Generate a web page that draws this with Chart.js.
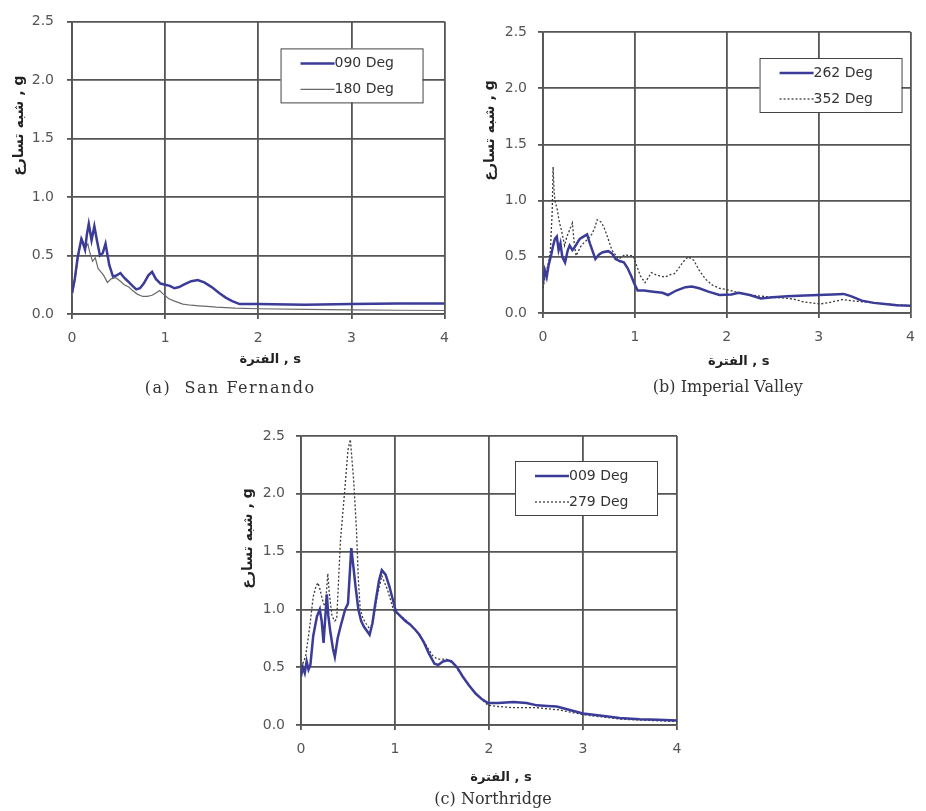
<!DOCTYPE html>
<html>
<head>
<meta charset="utf-8">
<script src="https://cdn.jsdelivr.net/npm/chart.js@4.4.0/dist/chart.umd.min.js"></script>
<style>
  body { margin: 0; background: #fff; width: 926px; height: 811px; position: relative; overflow: hidden; }
  canvas { position: absolute; }
</style>
</head>
<body>
<canvas id="chartA" width="460" height="400" style="left:0;top:0"></canvas>
<canvas id="chartB" width="466" height="400" style="left:460px;top:0"></canvas>
<canvas id="chartC" width="480" height="411" style="left:220px;top:400px"></canvas>
<script>
// axis texts
const xTitle = 'الفترة , s';
const yTitle = 'شبه تسارع , g';
const xTicks = [0, 1, 2, 3, 4];
const yTicks = [0, 0.5, 1, 1.5, 2, 2.5];

// (a) San Fernando
const periodA090 = [0, 0.03, 0.06, 0.1, 0.12, 0.14, 0.16, 0.18, 0.21, 0.24, 0.27, 0.3, 0.33, 0.36, 0.4, 0.44, 0.48, 0.52, 0.56, 0.6, 0.65, 0.69, 0.73, 0.77, 0.82, 0.86, 0.9, 0.95, 1.0, 1.05, 1.1, 1.15, 1.2, 1.28, 1.35, 1.42, 1.5, 1.58, 1.65, 1.72, 1.8, 2.0, 2.5, 3.0, 3.5, 4.0];
const accelA090 = [0.18, 0.3, 0.48, 0.64, 0.6, 0.55, 0.68, 0.77, 0.63, 0.75, 0.62, 0.5, 0.52, 0.6, 0.42, 0.32, 0.33, 0.35, 0.31, 0.28, 0.24, 0.21, 0.22, 0.26, 0.33, 0.36, 0.3, 0.26, 0.25, 0.24, 0.22, 0.23, 0.25, 0.28, 0.29, 0.27, 0.23, 0.18, 0.14, 0.11, 0.085, 0.085, 0.08, 0.085, 0.09, 0.09];
const periodA180 = [0, 0.03, 0.06, 0.09, 0.11, 0.14, 0.17, 0.19, 0.22, 0.25, 0.28, 0.31, 0.34, 0.38, 0.42, 0.47, 0.52, 0.56, 0.61, 0.65, 0.7, 0.76, 0.81, 0.86, 0.9, 0.94, 0.98, 1.04, 1.1, 1.19, 1.28, 1.36, 1.45, 1.55, 1.65, 1.75, 2.0, 2.5, 3.0, 3.5, 4.0];
const accelA180 = [0.15, 0.28, 0.45, 0.6, 0.64, 0.56, 0.6, 0.53, 0.45, 0.48, 0.39, 0.36, 0.33, 0.27, 0.3, 0.31, 0.28, 0.25, 0.23, 0.2, 0.17, 0.15, 0.15, 0.16, 0.18, 0.2, 0.17, 0.13, 0.11, 0.085, 0.075, 0.07, 0.065, 0.058, 0.055, 0.05, 0.045, 0.04, 0.035, 0.032, 0.03];

// (b) Imperial Valley
const periodB262 = [0, 0.02, 0.04, 0.06, 0.09, 0.11, 0.13, 0.15, 0.17, 0.19, 0.21, 0.24, 0.27, 0.29, 0.32, 0.34, 0.37, 0.4, 0.44, 0.48, 0.51, 0.54, 0.57, 0.61, 0.65, 0.71, 0.75, 0.79, 0.84, 0.88, 0.92, 0.96, 1.0, 1.03, 1.1, 1.2, 1.3, 1.36, 1.45, 1.55, 1.62, 1.7, 1.8, 1.92, 2.05, 2.13, 2.25, 2.37, 2.5, 2.66, 2.85, 3.0, 3.15, 3.27, 3.35, 3.47, 3.6, 3.72, 3.85, 4.0];
const accelB262 = [0.27, 0.38, 0.32, 0.42, 0.52, 0.6, 0.66, 0.68, 0.56, 0.62, 0.5, 0.45, 0.56, 0.6, 0.56, 0.58, 0.62, 0.66, 0.68, 0.7, 0.62, 0.55, 0.48, 0.52, 0.54, 0.55, 0.53, 0.48, 0.46, 0.45, 0.4, 0.33, 0.25, 0.2, 0.2, 0.19, 0.18, 0.16, 0.2, 0.23, 0.235, 0.22, 0.19, 0.16, 0.165, 0.18, 0.16, 0.13, 0.14, 0.15, 0.155, 0.16, 0.165, 0.17, 0.15, 0.11, 0.09, 0.08, 0.07, 0.065];
const periodB352 = [0, 0.03, 0.06, 0.08, 0.1, 0.11, 0.12, 0.13, 0.155, 0.18, 0.2, 0.22, 0.235, 0.26, 0.29, 0.32, 0.34, 0.36, 0.41, 0.45, 0.48, 0.53, 0.56, 0.59, 0.63, 0.66, 0.7, 0.75, 0.82, 0.86, 0.89, 0.93, 0.98, 1.02, 1.06, 1.11, 1.15, 1.18, 1.23, 1.27, 1.33, 1.38, 1.43, 1.47, 1.52, 1.58, 1.64, 1.7, 1.77, 1.84, 1.92, 1.99, 2.13, 2.25, 2.37, 2.5, 2.66, 2.75, 2.83, 2.92, 3.01, 3.1, 3.26, 3.35, 3.47, 3.6, 3.75, 3.9, 4.0];
const accelB352 = [0.22, 0.35, 0.45, 0.55, 0.9, 1.3, 1.1, 1.0, 0.92, 0.8, 0.74, 0.66, 0.6, 0.68, 0.74, 0.8, 0.62, 0.51, 0.59, 0.63, 0.65, 0.7, 0.75, 0.83, 0.81, 0.77, 0.68, 0.56, 0.48, 0.5, 0.52, 0.51, 0.51, 0.42, 0.33, 0.27, 0.32, 0.36, 0.34, 0.33, 0.32, 0.34, 0.35, 0.39, 0.45, 0.5, 0.47, 0.38, 0.3, 0.25, 0.22, 0.21, 0.18, 0.16, 0.15, 0.14, 0.13, 0.12, 0.1, 0.09, 0.08, 0.09, 0.12, 0.11, 0.1, 0.09, 0.08, 0.07, 0.065];

// (c) Northridge
const periodC009 = [0, 0.02, 0.04, 0.06, 0.08, 0.1, 0.13, 0.17, 0.2, 0.22, 0.24, 0.26, 0.275, 0.29, 0.31, 0.34, 0.36, 0.39, 0.42, 0.47, 0.5, 0.535, 0.56, 0.58, 0.61, 0.64, 0.67, 0.73, 0.76, 0.79, 0.83, 0.86, 0.9, 0.94, 1.01, 1.06, 1.11, 1.16, 1.22, 1.26, 1.31, 1.36, 1.42, 1.46, 1.51, 1.56, 1.6, 1.66, 1.72, 1.79, 1.86, 1.93, 1.99, 2.1, 2.26, 2.4, 2.51, 2.62, 2.72, 2.86, 3.0, 3.2, 3.39, 3.6, 3.8, 4.0];
const accelC009 = [0.42, 0.5, 0.45, 0.55, 0.48, 0.52, 0.77, 0.94, 1.0, 0.9, 0.71, 0.95, 1.13, 0.95, 0.82, 0.66, 0.59, 0.75, 0.85, 1.0, 1.05, 1.53, 1.35, 1.2, 1.0, 0.9, 0.85, 0.78, 0.88, 1.05, 1.25, 1.34, 1.3, 1.2, 0.98, 0.94, 0.9, 0.87, 0.82, 0.78, 0.71, 0.62, 0.53, 0.52, 0.55, 0.56, 0.55, 0.5, 0.42, 0.34, 0.27, 0.22, 0.19, 0.19, 0.2, 0.19, 0.17, 0.165, 0.16, 0.13, 0.1, 0.08, 0.06, 0.05, 0.045, 0.04];
const periodC279 = [0, 0.03, 0.05, 0.08, 0.1, 0.13, 0.16, 0.18, 0.2, 0.22, 0.24, 0.26, 0.285, 0.3, 0.33, 0.36, 0.38, 0.42, 0.46, 0.5, 0.525, 0.56, 0.59, 0.61, 0.63, 0.66, 0.69, 0.74, 0.78, 0.81, 0.86, 0.92, 0.99, 1.05, 1.1, 1.2, 1.3, 1.4, 1.45, 1.5, 1.55, 1.62, 1.72, 1.86, 1.99, 2.1, 2.25, 2.5, 2.75, 3.0, 3.2, 3.4, 3.7, 4.0];
const accelC279 = [0.5, 0.55, 0.6, 0.77, 0.9, 1.11, 1.2, 1.23, 1.18, 1.11, 1.05, 1.03, 1.31, 1.15, 0.94, 0.9, 0.92, 1.6, 1.98, 2.38, 2.47, 2.12, 1.69, 1.26, 1.0, 0.92, 0.88, 0.82, 0.95, 1.11, 1.29, 1.17, 0.98, 0.95, 0.92, 0.84, 0.73, 0.6, 0.57, 0.57, 0.57, 0.53, 0.42, 0.27, 0.17, 0.16, 0.15, 0.15, 0.13, 0.09, 0.07, 0.05, 0.04, 0.03];

const toPoints = (xs, ys) => ys.map((y, i) => ({ x: xs[i], y }));

const mainLine = (label, xs, ys) => ({
  label,
  data: toPoints(xs, ys),
  borderColor: '#3b3b98',
  borderWidth: 2.5,
  pointRadius: 0,
  tension: 0,
});

const otherLine = (label, xs, ys, dash) => ({
  label,
  data: toPoints(xs, ys),
  borderColor: dash ? '#3a3a3a' : '#6a6a6a',
  borderWidth: dash ? 1.3 : 1.2,
  borderDash: dash ? [2, 2] : [],
  pointRadius: 0,
  tension: 0,
});

// axis titles, caption and boxed legend
const chartText = {
  id: 'chartText',
  afterDraw(chart, args, opts) {
    const { ctx, chartArea: { left, right, top, bottom } } = chart;
    const midX = (left + right) / 2;
    const midY = (top + bottom) / 2;
    ctx.save();
    ctx.fillStyle = '#222';
    ctx.textAlign = 'center';
    ctx.textBaseline = 'middle';

    ctx.save();
    ctx.font = 'bold 14px "DejaVu Sans"';
    ctx.translate(left - 53, midY - 42);
    ctx.rotate(-Math.PI / 2);
    ctx.fillText(yTitle, 0, 0);
    ctx.restore();

    ctx.font = 'bold 13px "DejaVu Sans"';
    ctx.fillText(xTitle, midX + 12, bottom + opts.xTitleY);

    ctx.save();
    ctx.font = '16px "DejaVu Serif"';
    ctx.fillStyle = '#333';
    if (opts.captionSpacing) ctx.letterSpacing = opts.captionSpacing;
    ctx.fillText(opts.caption, midX + opts.captionX, bottom + 75);
    ctx.restore();

    // legend box
    const w = 142, h = 54;
    const x0 = right - opts.legendRight - w;
    const y0 = top + opts.legendTop;
    ctx.fillStyle = '#fff';
    ctx.fillRect(x0, y0, w, h);
    ctx.strokeStyle = '#444';
    ctx.lineWidth = 1;
    ctx.strokeRect(x0 + 0.5, y0 + 0.5, w, h);
    ctx.textAlign = 'left';
    ctx.font = '14px "DejaVu Sans"';
    chart.data.datasets.forEach((ds, i) => {
      const yy = y0 + 15 + i * 26;
      ctx.strokeStyle = ds.borderColor;
      ctx.lineWidth = ds.borderWidth;
      ctx.setLineDash(ds.borderDash || []);
      ctx.beginPath();
      ctx.moveTo(x0 + 20, yy);
      ctx.lineTo(x0 + 54, yy);
      ctx.stroke();
      ctx.fillStyle = '#333';
      ctx.fillText(ds.label, x0 + 54, yy);
    });
    ctx.restore();
  },
};

const makeChart = (id, datasets, box) => {
  new Chart(document.getElementById(id), {
    type: 'line',
    data: { datasets },
    plugins: [chartText],
    options: {
      responsive: false,
      animation: false,
      layout: { padding: { left: 0, top: box.top, right: box.right, bottom: 0 } },
      plugins: {
        legend: { display: false },
        tooltip: { enabled: false },
        chartText: box.text,
      },
      scales: {
        x: {
          type: 'linear',
          min: xTicks[0],
          max: xTicks[xTicks.length - 1],
          afterFit: (s) => { s.height = box.xh; },
          afterBuildTicks: (s) => { s.ticks = xTicks.map((v) => ({ value: v })); },
          ticks: { padding: 11, color: '#555', font: { size: 14, family: 'DejaVu Sans' } },
          grid: { color: '#555', lineWidth: 1.8, tickLength: 5 },
          border: { color: '#555', width: 1.8 },
        },
        y: {
          min: yTicks[0],
          max: yTicks[yTicks.length - 1],
          afterFit: (s) => { s.width = box.yw; },
          afterBuildTicks: (s) => { s.ticks = yTicks.map((v) => ({ value: v })); },
          ticks: {
            padding: box.tp,
            color: '#555',
            font: { size: 14, family: 'DejaVu Sans' },
            callback: (v) => v.toFixed(1),
          },
          grid: { color: '#555', lineWidth: 1.8, tickLength: 5 },
          border: { color: '#555', width: 1.8 },
        },
      },
    },
  });
};

makeChart('chartA', [
  mainLine('090 Deg', periodA090, accelA090),
  otherLine('180 Deg', periodA180, accelA180, false),
], {
  top: 20, right: 13, xh: 86, yw: 72, tp: 13,
  text: { caption: '(a)  San Fernando', captionX: -28, captionSpacing: '1.5px', xTitleY: 46, legendRight: 22, legendTop: 27 },
});

makeChart('chartB', [
  mainLine('262 Deg', periodB262, accelB262),
  otherLine('352 Deg', periodB352, accelB352, true),
], {
  top: 32, right: 6, xh: 87, yw: 83, tp: 11,
  text: { caption: '(b) Imperial Valley', captionX: 1, xTitleY: 49, legendRight: 9, legendTop: 26 },
});

makeChart('chartC', [
  mainLine('009 Deg', periodC009, accelC009),
  otherLine('279 Deg', periodC279, accelC279, true),
], {
  top: 36, right: 23, xh: 86, yw: 81, tp: 11,
  text: { caption: '(c) Northridge', captionX: 4, xTitleY: 53, legendRight: 20, legendTop: 25 },
});
</script>
</body>
</html>
